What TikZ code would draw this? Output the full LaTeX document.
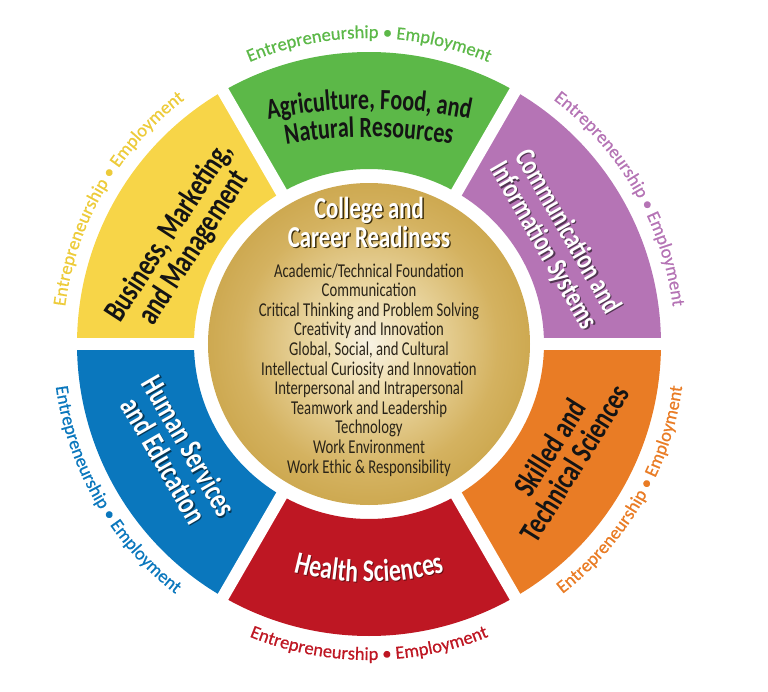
\documentclass[tikz,border=0pt]{standalone}
\usepackage{fontspec}
\setmainfont{Carlito}
\newfontfamily\lblfont[FakeStretch=0.75]{Carlito}
\newfontfamily\outfont[FakeBold=0.6]{Carlito}
\usetikzlibrary{decorations.text}
\definecolor{segY}{HTML}{F7D548}
\definecolor{segG}{HTML}{5CB848}
\definecolor{segP}{HTML}{B574B5}
\definecolor{segO}{HTML}{E97C25}
\definecolor{segR}{HTML}{BE1723}
\definecolor{segB}{HTML}{0A77BD}
\definecolor{txtY}{HTML}{EDCB3A}
\definecolor{lbldark}{HTML}{141414}
\definecolor{listcol}{HTML}{2A2418}
\definecolor{goldA}{HTML}{F8F3E4}
\definecolor{goldB}{HTML}{EEDDAE}
\definecolor{goldC}{HTML}{D4B260}
\definecolor{goldD}{HTML}{BF952F}
\definecolor{goldE}{HTML}{A98020}
\pgfdeclareradialshading{goldshade}{\pgfpoint{0bp}{0bp}}{color(0bp)=(goldA); color(7bp)=(goldB); color(20bp)=(goldC); color(36bp)=(goldD); color(50bp)=(goldE)}
\newcommand{\ringtext}[4]{\path[decorate, decoration={text along path, text align=center, text={|\outfont\fontsize{18.5}{20}\selectfont\color{#1}|Entrepreneurship • Employment}}] (#2:#4) arc[start angle=#2, end angle=#3, radius=#4];}
\tikzset{
  seglabel/.style={align=center, inner sep=0pt},
  titletxt/.style={anchor=base, inner sep=0pt, text=white, font=\lblfont\bfseries\fontsize{30.4}{30}\selectfont},
  titleshadow/.style={titletxt, text=goldE!35!black},
  listitem/.style={anchor=base, inner sep=0pt, text=listcol, font=\lblfont\fontsize{19.6}{19}\selectfont},
  gapline/.style={white, line width=12pt}
}
\begin{document}
\begin{tikzpicture}
\useasboundingbox (-369pt,-347pt) rectangle (399pt,344pt);
% ring segments
\foreach \a/\c in {0/segP,60/segG,120/segY,180/segB,240/segR,300/segO}{
  \fill[\c] (\a:175pt) arc[start angle=\a, end angle={\a+60}, radius=175pt] -- ({\a+60}:292pt) arc[start angle={\a+60}, end angle=\a, radius=292pt] -- cycle;
}
\foreach \a in {0,60,...,300}{
  \draw[gapline] (\a:160pt) -- (\a:300pt);
}
% gold centre
\shade[shading=goldshade] (0pt,0pt) circle[radius=161pt];
% title
\node[titleshadow] (titleAs) at (1.4pt,124.6pt) {College and};
\node[titletxt] (titleA) at (0pt,126pt) {College and};
\node[titleshadow] (titleBs) at (1.4pt,95.6pt) {Career Readiness};
\node[titletxt] (titleB) at (0pt,97pt) {Career Readiness};
% list
\foreach \t [count=\i] in {{Academic/Technical Foundation},Communication,{Critical Thinking and Problem Solving},{Creativity and Innovation},{Global, Social, and Cultural},{Intellectual Curiosity and Innovation},{Interpersonal and Intrapersonal},{Teamwork and Leadership},Technology,{Work Environment},{Work Ethic \& Responsibility}}{
  \pgfmathsetmacro\yy{67-(\i-1)*19.6}
  \node[listitem] (item\i) at (0pt,\yy pt) {\t};
}
% segment labels
\node[seglabel, text=lbldark, rotate=57, font=\lblfont\bfseries\fontsize{32}{29}\selectfont] (lblY) at (151:214pt) {Business, Marketing,\\and Management};
\node[seglabel, text=segP!45!black, rotate=-60, font=\lblfont\bfseries\fontsize{29.3}{28}\selectfont] (lblPs) at ([shift={(1.2pt,-1.2pt)}]29.4:214pt) {Communication and\\Information Systems};
\node[seglabel, text=white, rotate=-60, font=\lblfont\bfseries\fontsize{29.3}{28}\selectfont] (lblP) at (29.4:214pt) {Communication and\\Information Systems};
\node[seglabel, text=segB!45!black, rotate=-60, font=\lblfont\bfseries\fontsize{31.5}{29}\selectfont] (lblBs) at ([shift={(1.2pt,-1.2pt)}]209.6:221pt) {Human Services\\and Education};
\node[seglabel, text=white, rotate=-60, font=\lblfont\bfseries\fontsize{31.5}{29}\selectfont] (lblB) at (209.6:221pt) {Human Services\\and Education};
\node[seglabel, text=lbldark, rotate=58, font=\lblfont\bfseries\fontsize{31.5}{29}\selectfont] (lblO) at (-29.9:223pt) {Skilled and\\Technical Sciences};
% green arched label
\path[shift={(0pt,-265pt)}, decorate, decoration={text along path, text align=center, text={|\lblfont\bfseries\fontsize{29.3}{25}\selectfont\color{lbldark}|Agriculture, Food, and}}] (110:500pt) arc[start angle=110, end angle=70, radius=500pt];
\path[shift={(0pt,-265pt)}, decorate, decoration={text along path, text align=center, text={|\lblfont\bfseries\fontsize{29.3}{25}\selectfont\color{lbldark}|Natural Resources}}] (110:472pt) arc[start angle=110, end angle=70, radius=472pt];
% red arched label
\path[shift={(1pt,55pt)}, decorate, decoration={text along path, text align=center, text={|\lblfont\bfseries\fontsize{31.5}{27}\selectfont\color{segR!55!black}|Health Sciences}}] (235:294pt) arc[start angle=235, end angle=305, radius=294pt];
\path[shift={(0pt,56pt)}, decorate, decoration={text along path, text align=center, text={|\lblfont\bfseries\fontsize{31.5}{27}\selectfont\color{white}|Health Sciences}}] (235:294pt) arc[start angle=235, end angle=305, radius=294pt];
% outer ring texts
\ringtext{txtY}{195}{105}{306pt}
\ringtext{segG}{135}{45}{306pt}
\ringtext{segP}{75}{-15}{306pt}
\ringtext{segB}{165}{255}{316pt}
\ringtext{segR}{225}{315}{316pt}
\ringtext{segO}{285}{375}{316pt}
\end{tikzpicture}
\end{document}
